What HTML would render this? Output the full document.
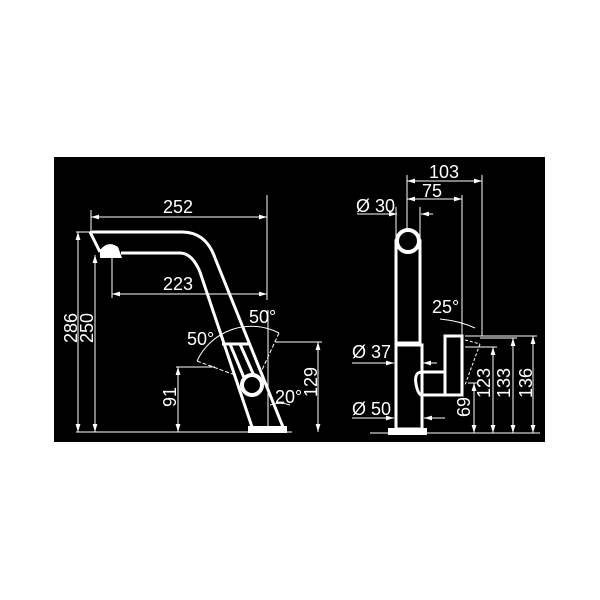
<!DOCTYPE html>
<html><head><style>html,body{margin:0;padding:0;background:#fff;}svg{display:block}</style></head>
<body>
<svg width="600" height="600" viewBox="0 0 600 600" xmlns="http://www.w3.org/2000/svg">
<defs>
<marker id="a" viewBox="0 0 10 6" refX="10" refY="3" markerWidth="8" markerHeight="5" orient="auto-start-reverse" markerUnits="userSpaceOnUse"><path d="M0,0 L10,3 L0,6 z" fill="#fff"/></marker>
</defs>
<rect x="54" y="157" width="491" height="285" fill="#000"/>
<g font-family="Liberation Sans, sans-serif" font-size="18" fill="#fff">
<!-- LEFT VIEW -->
<g stroke="#fff" stroke-width="1" fill="none">
<line x1="91" y1="217" x2="267" y2="217" marker-start="url(#a)" marker-end="url(#a)"/>
<line x1="91" y1="210" x2="91" y2="230"/>
<line x1="267" y1="195" x2="267" y2="300"/>
<line x1="112" y1="294" x2="267" y2="294" marker-start="url(#a)" marker-end="url(#a)"/>
<line x1="112" y1="256" x2="112" y2="298"/>
<line x1="76" y1="232" x2="92" y2="232"/>
<line x1="78" y1="232" x2="78" y2="432" marker-start="url(#a)" marker-end="url(#a)"/>
<line x1="95" y1="255" x2="95" y2="432" marker-start="url(#a)" marker-end="url(#a)"/>
<line x1="76" y1="432" x2="292" y2="432"/>
<line x1="178" y1="367" x2="178" y2="432" marker-start="url(#a)" marker-end="url(#a)"/>
<line x1="176" y1="367" x2="215" y2="367"/>
<line x1="318" y1="342" x2="318" y2="432" marker-start="url(#a)" marker-end="url(#a)"/>
<line x1="275" y1="342" x2="322" y2="342"/>
<path d="M197,361 A60,60 0 0 1 279,333"/>
<line x1="197" y1="361" x2="235" y2="375" stroke-dasharray="4,2"/>
<line x1="279" y1="333" x2="262" y2="370" stroke-dasharray="4,2"/>
<line x1="268" y1="310" x2="268" y2="430"/>
<path d="M270,405 A30,30 0 0 1 290,405"/>
</g>
<g stroke="#fff" stroke-width="3" fill="none">
<path d="M90,232 L182,232 Q206,232 215,258 L283,427"/>
<path d="M121,253 L180,253 Q192,253 200,272 L252,427"/>
<path d="M90,232 L100,252"/>
<path d="M222,344 L250,344"/>
<path d="M230,344 L245,380 M240,344 L255,378"/>
</g>
<path d="M100,250 Q108,240 118,247 L122,258 L100,258 Z" fill="#fff"/>
<rect x="248" y="426" width="39" height="7" fill="#fff"/>
<circle cx="252" cy="385" r="10" fill="#000" stroke="#fff" stroke-width="4"/>
<text x="163" y="213">252</text>
<text x="163" y="290">223</text>
<text transform="translate(77,343) rotate(-90)">286</text>
<text transform="translate(93,343) rotate(-90)">250</text>
<text transform="translate(176,407) rotate(-90)">91</text>
<text transform="translate(317,397) rotate(-90)">129</text>
<text x="187" y="345">50°</text>
<text x="249" y="323">50°</text>
<text x="275" y="403">20°</text>
<!-- RIGHT VIEW -->
<g stroke="#fff" stroke-width="1" fill="none">
<line x1="407" y1="181" x2="482" y2="181" marker-start="url(#a)" marker-end="url(#a)"/>
<line x1="407" y1="199" x2="462" y2="199" marker-start="url(#a)" marker-end="url(#a)"/>
<line x1="407" y1="175" x2="407" y2="230"/>
<line x1="462" y1="195" x2="462" y2="336"/>
<line x1="482" y1="175" x2="482" y2="336"/>
<line x1="357" y1="214" x2="397" y2="214" marker-end="url(#a)"/>
<line x1="421" y1="214" x2="433" y2="214" marker-start="url(#a)"/>
<line x1="396" y1="207" x2="396" y2="240"/>
<line x1="420" y1="207" x2="420" y2="240"/>
<line x1="352" y1="363" x2="394" y2="363" marker-end="url(#a)"/>
<line x1="423" y1="363" x2="437" y2="363" marker-start="url(#a)"/>
<line x1="352" y1="418" x2="394" y2="418" marker-end="url(#a)"/>
<line x1="424" y1="418" x2="445" y2="418" marker-start="url(#a)"/>
<line x1="370" y1="433" x2="540" y2="433"/>
<line x1="474" y1="383" x2="474" y2="433" marker-start="url(#a)" marker-end="url(#a)"/>
<line x1="468" y1="383" x2="478" y2="383"/>
<line x1="493" y1="347" x2="493" y2="433" marker-start="url(#a)" marker-end="url(#a)"/>
<line x1="465" y1="347" x2="497" y2="347"/>
<line x1="513" y1="338" x2="513" y2="433" marker-start="url(#a)" marker-end="url(#a)"/>
<line x1="480" y1="338" x2="517" y2="338"/>
<line x1="533" y1="336" x2="533" y2="433" marker-start="url(#a)" marker-end="url(#a)"/>
<line x1="465" y1="336" x2="537" y2="336"/>
<path d="M440,319 Q460,321 475,328"/>
<line x1="465" y1="340" x2="480" y2="344" stroke-dasharray="3,2"/>
<line x1="480" y1="344" x2="465" y2="385" stroke-dasharray="3,2"/>
</g>
<g stroke="#fff" stroke-width="3" fill="none">
<rect x="396" y="241" width="24" height="102"/>
<rect x="396" y="345" width="26" height="84"/>
<rect x="445" y="336" width="17" height="59"/>
<path d="M422,372 L445,372 M422,395 L445,395 M422,372 Q414,372 416,384 Q418,395 422,395"/>
</g>
<circle cx="408" cy="241" r="11" fill="#000" stroke="#fff" stroke-width="4"/>
<rect x="388" y="428" width="39" height="7" fill="#fff"/>
<text x="429" y="178">103</text>
<text x="422" y="197">75</text>
<text x="356" y="212">Ø 30</text>
<text x="352" y="358">Ø 37</text>
<text x="352" y="415">Ø 50</text>
<text x="432" y="313">25°</text>
<text transform="translate(470,417) rotate(-90)">69</text>
<text transform="translate(490,398) rotate(-90)">123</text>
<text transform="translate(510,398) rotate(-90)">133</text>
<text transform="translate(532,398) rotate(-90)">136</text>
</g>
</svg>
</body></html>
